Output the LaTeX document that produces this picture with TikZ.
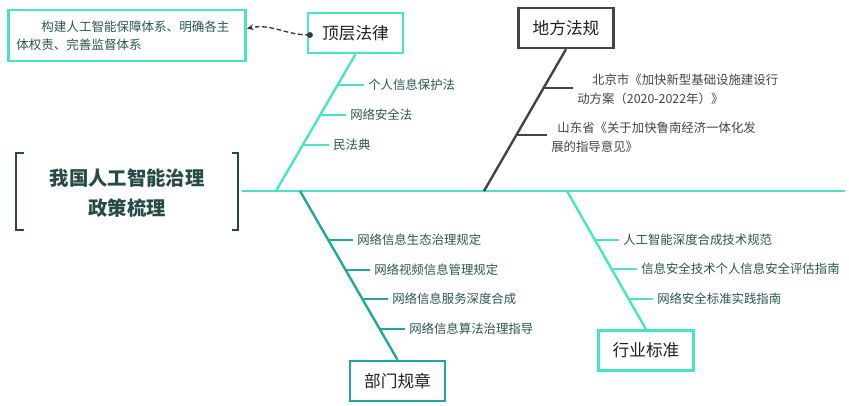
\documentclass[tikz,border=0pt]{standalone}
\usepackage{fontspec}
\setmainfont{Noto Sans CJK SC}
\usetikzlibrary{arrows.meta,calc}

\definecolor{mint}{RGB}{72,228,200}
\definecolor{deep}{RGB}{36,166,160}
\definecolor{slate}{RGB}{68,68,68}
\definecolor{ink}{RGB}{40,86,80}
\definecolor{heading}{RGB}{38,74,70}

\tikzset{
  cat/.style={draw, line width=1.8pt, minimum width=71pt, minimum height=30pt,
    inner sep=2pt, text=black!88, font=\fontsize{12.5}{15}\selectfont},
  leaf/.style={anchor=west, inner sep=3pt, align=left, text=ink,
    font=\fontsize{9.3}{14}\selectfont},
  bone/.style={line width=1.8pt},
  twig/.style={line width=1.4pt},
  spine/.style={line width=2.2pt, mint},
  bracket/.style={line width=1.9pt, heading},
  note/.style={draw=mint, line width=1.8pt, text width=166pt, minimum height=38pt,
    inner sep=6pt, align=left, text=ink, font=\fontsize{9.4}{13.5}\selectfont},
  link/.style={line width=1pt, slate!80!black, dash pattern=on 3.5pt off 2pt}
}

\begin{document}
\begin{tikzpicture}[x=0.75pt,y=0.75pt,yscale=-1,xscale=1]
\useasboundingbox (0,0) rectangle (849,405);

% title with brackets
\node[text=heading, align=center, font=\fontsize{14.5}{22.5}\selectfont\bfseries] (title) at (127,193) {我国人工智能治理\\政策梳理};
\draw[bracket] (24,153) -- (16,153) -- (16,230) -- (24,230);
\draw[bracket] (232,153) -- (238,153) -- (238,230) -- (232,230);

% spine
\coordinate (head) at (242,191);
\coordinate (tail) at (845,191);
\draw[spine] (head) -- (tail);

% category boxes
\node[cat, draw=mint] (law) at (355.5,33) {顶层法律};
\node[cat, draw=slate] (local) at (566,28) {地方法规};
\node[cat, draw=deep] (dept) at (397.5,381) {部门规章};
\node[cat, draw=mint] (std) at (646,350.5) {行业标准};

% bones
\coordinate (lawR) at (276,191);
\coordinate (localR) at (484,191);
\coordinate (deptR) at (300,191);
\coordinate (stdR) at (567,191);
\draw[bone, mint] (lawR) -- (law.south);
\draw[bone, slate] (localR) -- (local.south);
\draw[bone, deep] (deptR) -- (dept.north);
\draw[bone, mint] (stdR) -- (std.north);

% note on top level law
\node[note] (goal) at (127,35.5) {\hspace{2em}构建人工智能保障体系、明确各主\\体权责、完善监督体系};
\coordinate (aim) at ($(goal.east)+(0,-7)$);
\coordinate (knot) at ($(law.west)+(3,2)$);
\draw[link, -{Stealth[length=5pt,width=4.5pt]}] (knot) to[out=180,in=-12] (aim);
\fill[slate!80!black] (knot) circle (2.2pt);

% top level law
\coordinate (lw1) at (336.7,85);
\coordinate (lw2) at (319.5,115);
\coordinate (lw3) at (302.3,145);
\node[leaf] (law1) at (364,85) {个人信息保护法};
\node[leaf] (law2) at (346,115) {网络安全法};
\node[leaf] (law3) at (329,145) {民法典};
\draw[twig, mint] (lw1) -- (law1.west);
\draw[twig, mint] (lw2) -- (law2.west);
\draw[twig, mint] (lw3) -- (law3.west);

% local regulations
\coordinate (lc1) at (543,88);
\coordinate (lc2) at (516,135);
\node[leaf, text=slate] (local1) at (573,89.5) {\hspace{1.2em}北京市《加快新型基础设施建设行\\动方案（2020-2022年）》};
\node[leaf, text=slate] (local2) at (547,137) {\hspace{0.5em}山东省《关于加快鲁南经济一体化发\\展的指导意见》};
\draw[twig, slate] (lc1) -- (lc1 -| local1.west);
\draw[twig, slate] (lc2) -- (lc2 -| local2.west);

% department rules
\coordinate (dp1) at (328.1,240);
\coordinate (dp2) at (345.3,270);
\coordinate (dp3) at (362,299);
\coordinate (dp4) at (379.2,329);
\node[leaf] (dept1) at (353,240) {网络信息生态治理规定};
\node[leaf] (dept2) at (370,270) {网络视频信息管理规定};
\node[leaf] (dept3) at (388,299) {网络信息服务深度合成};
\node[leaf] (dept4) at (405,329) {网络信息算法治理指导};
\draw[twig, deep] (dp1) -- (dept1.west);
\draw[twig, deep] (dp2) -- (dept2.west);
\draw[twig, deep] (dp3) -- (dept3.west);
\draw[twig, deep] (dp4) -- (dept4.west);

% industry standards
\coordinate (sd1) at (594.6,240);
\coordinate (sd2) at (611,269);
\coordinate (sd3) at (628,299);
\node[leaf] (std1) at (619,240) {人工智能深度合成技术规范};
\node[leaf] (std2) at (637,269) {信息安全技术个人信息安全评估指南};
\node[leaf] (std3) at (653,299) {网络安全标准实践指南};
\draw[twig, mint] (sd1) -- (std1.west);
\draw[twig, mint] (sd2) -- (std2.west);
\draw[twig, mint] (sd3) -- (std3.west);
\end{tikzpicture}
\end{document}
